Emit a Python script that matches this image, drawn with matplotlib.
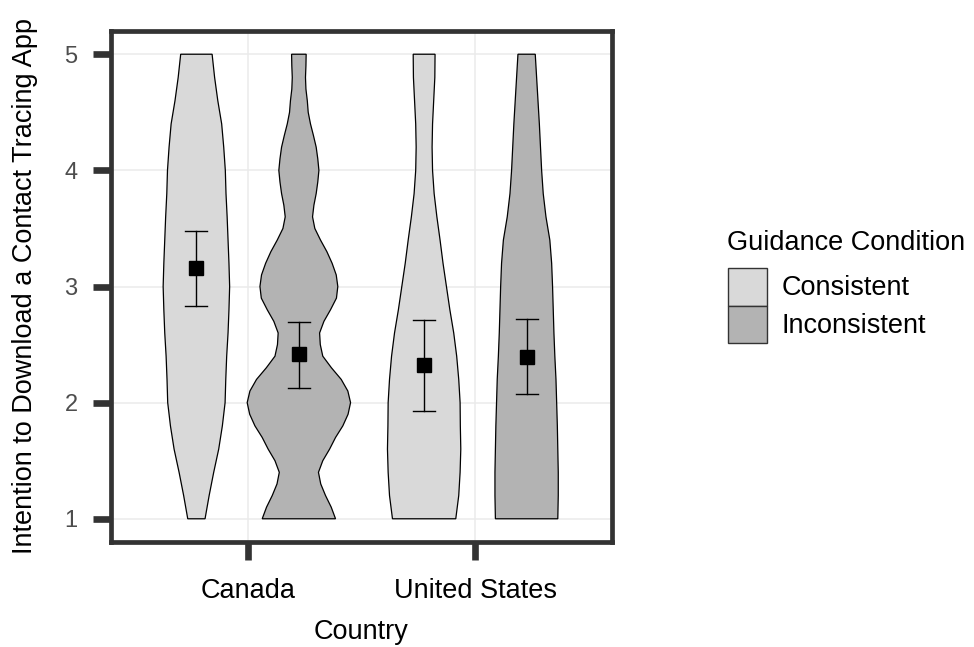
import matplotlib
matplotlib.use("Agg")
import matplotlib.pyplot as plt
from matplotlib.patches import Patch

plt.rcParams['font.family'] = ['Liberation Sans', 'DejaVu Sans']

# data
countries = ["Canada", "United States"]
conditions = ["Consistent", "Inconsistent"]
fills = {"Consistent": "#d9d9d9", "Inconsistent": "#b3b3b3"}

# violin outlines: half-width (x units) at each rating level
levels_coarse = [1.0, 1.2, 1.4, 1.6, 1.8, 2.0, 2.2, 2.4, 2.6, 2.8, 3.0,
                 3.2, 3.4, 3.6, 3.8, 4.0, 4.2, 4.4, 4.6, 4.8, 5.0]
levels_fine = [1.0, 1.1, 1.2, 1.3, 1.4, 1.5, 1.6, 1.7, 1.8, 1.9, 2.0,
               2.1, 2.2, 2.3, 2.4, 2.5, 2.6, 2.7, 2.8, 2.9, 3.0,
               3.1, 3.2, 3.3, 3.4, 3.5, 3.6, 3.7, 3.8, 3.9, 4.0,
               4.1, 4.2, 4.3, 4.4, 4.5, 4.6, 4.7, 4.8, 4.9, 5.0]

ca_consistent = [0.038, 0.056, 0.076, 0.098, 0.114, 0.126, 0.129, 0.133, 0.139, 0.143, 0.146,
                 0.143, 0.139, 0.135, 0.130, 0.127, 0.120, 0.111, 0.094, 0.080, 0.069]
ca_inconsistent = [0.161, 0.142, 0.117, 0.096, 0.086, 0.105, 0.135, 0.161, 0.193, 0.216, 0.227,
                   0.215, 0.186, 0.143, 0.105, 0.094, 0.091, 0.110, 0.139, 0.165, 0.171,
                   0.164, 0.146, 0.123, 0.095, 0.070, 0.060, 0.066, 0.076, 0.083, 0.088,
                   0.083, 0.076, 0.064, 0.051, 0.041, 0.037, 0.031, 0.029, 0.031, 0.032]
us_consistent = [0.139, 0.152, 0.158, 0.161, 0.159, 0.158, 0.152, 0.143, 0.130, 0.113, 0.098,
                 0.083, 0.070, 0.056, 0.044, 0.037, 0.035, 0.037, 0.042, 0.047, 0.048]
us_inconsistent = [0.137, 0.139, 0.139, 0.137, 0.135, 0.132, 0.129, 0.124, 0.120, 0.117, 0.114,
                   0.110, 0.102, 0.085, 0.073, 0.066, 0.061, 0.056, 0.050, 0.044, 0.038]

# means with error bar ends
means = {"Canada": [3.16, 2.415], "United States": [2.32, 2.395]}
lows = {"Canada": [2.836, 2.130], "United States": [1.930, 2.072]}
highs = {"Canada": [3.475, 2.696], "United States": [2.708, 2.717]}

violins = {
    ("Canada", "Consistent"): (levels_coarse, ca_consistent),
    ("Canada", "Inconsistent"): (levels_fine, ca_inconsistent),
    ("United States", "Consistent"): (levels_coarse, us_consistent),
    ("United States", "Inconsistent"): (levels_coarse, us_inconsistent),
}

fig = plt.figure(figsize=(9.74, 6.47), dpi=100)
ax = fig.add_axes([111 / 974, 1 - 542 / 647, 501 / 974, 511 / 647])

dodge = 0.225
cap = 0.048
for i, country in enumerate(countries):
    for j, cond in enumerate(conditions):
        xc = i + 1 + (j * 2 - 1) * dodge
        ys, hw = violins[(country, cond)]
        left = [xc - w for w in hw]
        right = [xc + w for w in hw]
        ax.fill(left + right[::-1], ys + ys[::-1], facecolor=fills[cond],
                edgecolor="black", linewidth=0.9, zorder=2)
        lo, hi = lows[country][j], highs[country][j]
        ax.plot([xc, xc], [lo, hi], color="black", lw=1.0, zorder=3)
        ax.plot([xc - cap, xc + cap], [lo, lo], color="black", lw=1.0, zorder=3)
        ax.plot([xc - cap, xc + cap], [hi, hi], color="black", lw=1.0, zorder=3)
        ax.plot(xc, means[country][j], marker="s", color="black", markersize=9.5, zorder=4)

ax.set_xlim(0.4, 2.6)
ax.set_ylim(0.8, 5.2)
ax.set_xticks([1, 2])
ax.set_xticklabels(countries)
ax.set_yticks([1, 2, 3, 4, 5])
ax.grid(True, color="#ebebeb", linewidth=1.1, zorder=0)
ax.set_axisbelow(True)

for s in ax.spines.values():
    s.set_linewidth(3.4)
    s.set_color("#333333")
ax.tick_params(axis="both", length=13, width=4.8, color="#333333")
ax.tick_params(axis="y", labelsize=17, labelcolor="#4d4d4d", pad=11)
ax.tick_params(axis="x", labelsize=19.5, labelcolor="black", pad=13)

ax.set_xlabel("Country", fontsize=19.5, labelpad=11)
ax.set_ylabel("Intention to Download a Contact Tracing App", fontsize=19.5, labelpad=19)

# legend: title as its own text, keys stacked below
fig.text(727 / 974, 1 - 250 / 647, "Guidance Condition", fontsize=19.5, va="baseline", ha="left")
handles = [Patch(facecolor=fills[c], edgecolor="#333333", linewidth=1.0, label=c) for c in conditions]
ax.legend(handles=handles, loc="upper left",
          bbox_to_anchor=(714 / 974, 1 - 254 / 647), bbox_transform=fig.transFigure,
          frameon=False, borderpad=0, fontsize=19.5,
          handlelength=1.44, handleheight=1.78, labelspacing=0, handletextpad=0.55)

fig.savefig("out.png", dpi=100)
